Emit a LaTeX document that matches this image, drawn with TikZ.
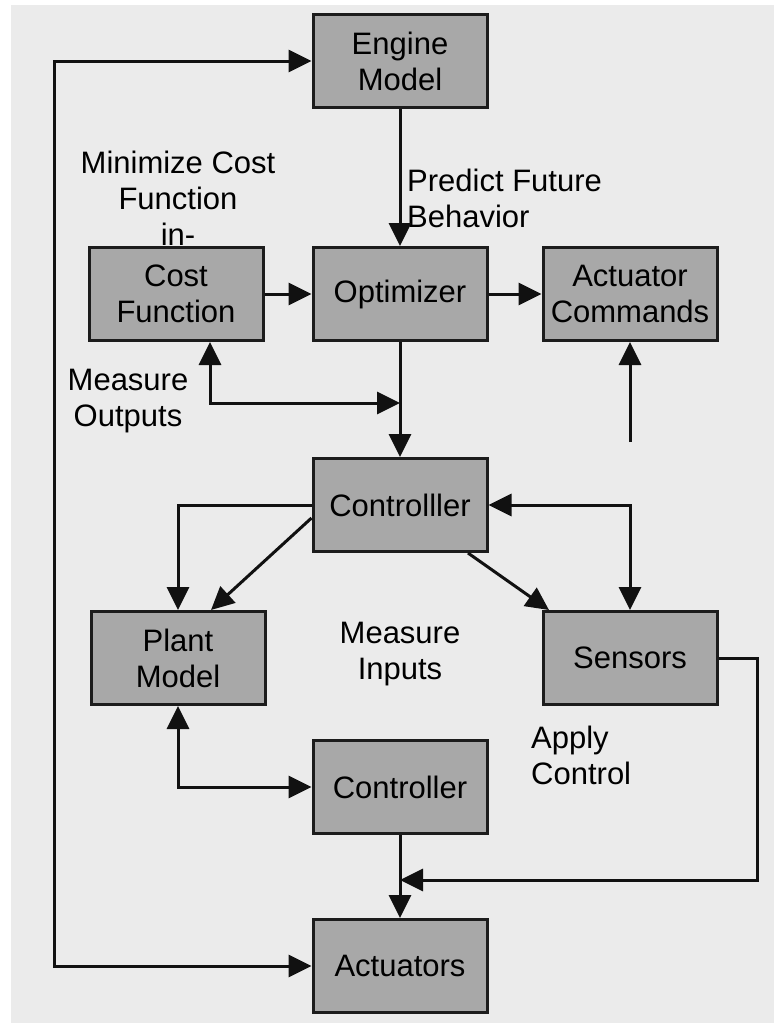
\documentclass[tikz,border=0pt]{standalone}
\usepackage{fontspec}
\setmainfont{Liberation Sans}
\usetikzlibrary{arrows.meta}
\definecolor{bgpaper}{HTML}{EBEBEB}
\definecolor{boxfill}{HTML}{A8A8A8}
\definecolor{boxline}{HTML}{1C1C1C}
\definecolor{wire}{HTML}{111111}
\tikzset{
  txt/.style={font=\fontsize{31}{36}\selectfont, text=black, inner sep=0pt},
  block/.style={txt, draw=boxline, fill=boxfill, line width=3pt,
    minimum width=174pt, minimum height=93pt, align=center},
  lbl/.style={txt},
  wirestyle/.style={draw=wire, line width=3pt},
  arr/.style={wirestyle, -{Triangle[length=23pt,width=22pt]}},
  biarr/.style={wirestyle, {Triangle[length=23pt,width=22pt]}-{Triangle[length=23pt,width=22pt]}},
}
\begin{document}
\begin{tikzpicture}[x=1pt,y=-1pt]
% paper
\fill[white] (0,0) rectangle (774,1023);
\fill[bgpaper] (11,5) rectangle (774,1023);
\useasboundingbox (0,0) rectangle (774,1023);

% blocks
\node[block] (engine) at (400,61)  {Engine\\Model};
\node[block] (cost)   at (176,294) {Cost\\Function};
\node[block] (opt)    at (400,294) {Optimizer};
\node[block] (act)    at (630,294) {Actuator\\Commands};
\node[block] (ctrlA)  at (400,505) {Controlller};
\node[block] (plant)  at (178,658) {Plant\\Model};
\node[block] (sens)   at (630,658) {Sensors};
\node[block] (ctrlB)  at (400,787) {Controller};
\node[block] (actu)   at (400,966) {Actuators};

% free labels
\node[lbl, align=center] (minlbl) at (178,198) {Minimize Cost\\Function\\in-};
\node[lbl, align=left, anchor=north west] (predlbl) at (407,169) {Predict Future\\Behavior};
\node[lbl, align=center] (moutlbl) at (128,401) {Measure\\Outputs};
\node[lbl, align=center] (minplbl) at (400,654) {Measure\\Inputs};
\node[lbl, align=left, anchor=north west] (applbl) at (531,726) {Apply\\Control};

% junction and free-end points
\coordinate (jopt) at (400,403);
\coordinate (cmdfoot) at (630,442);
\coordinate (jact) at (400,880);

% connectors
\draw[biarr] (engine.west) -- ++(-257,0) |- (actu.west);
\draw[arr] (engine.south) -- (opt.north);
\draw[arr] (cost.east) -- (opt.west);
\draw[arr] (opt.east) -- (act.west);
\draw[arr] (opt.south) -- (ctrlA.north);
\draw[biarr] ([xshift=34pt]cost.south) |- (jopt);
\draw[arr] (cmdfoot) -- (act.south);
\draw[arr] (ctrlA.west) -| (plant.north);
\draw[arr] ([yshift=-13pt]ctrlA.west) -- ([xshift=33pt]plant.north);
\draw[arr] ([xshift=68pt]ctrlA.south) -- ([xshift=-81pt]sens.north);
\draw[biarr] (ctrlA.east) -| (sens.north);
\draw[arr] (sens.east) -- ++(39,0) |- (jact);
\draw[arr] (ctrlB.south) -- (actu.north);
\draw[biarr] (plant.south) |- (ctrlB.west);
\end{tikzpicture}
\end{document}
